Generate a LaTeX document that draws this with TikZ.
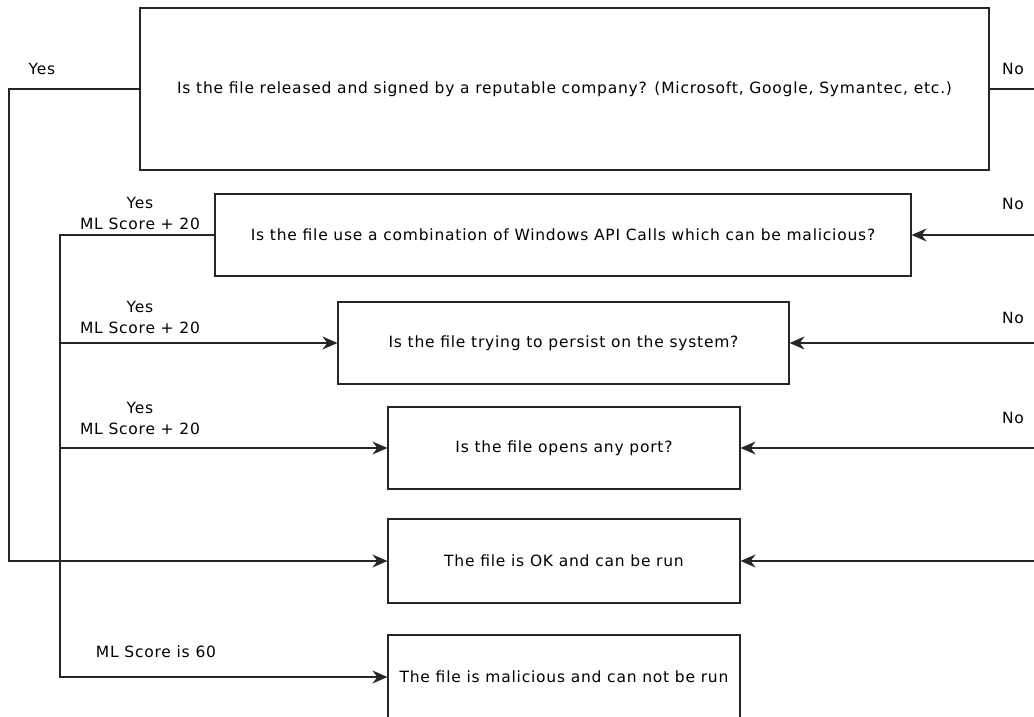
\documentclass[tikz,border=0pt]{standalone}
\usepackage{fontspec}
\setmainfont{DejaVu Sans}[LetterSpace=5]
\usetikzlibrary{arrows.meta}
\definecolor{flowline}{HTML}{262626}

\begin{document}
\begin{tikzpicture}[x=1pt,y=-1pt,
  qbox/.style={draw=flowline,line width=1.2pt,rectangle,inner sep=0pt,font=\fontsize{15.5}{18}\selectfont},
  flow/.style={draw=flowline,line width=1.2pt},
  flowarr/.style={flow,-{Stealth[length=15pt,width=13pt,inset=5pt]}},
  lbl/.style={font=\fontsize{15.5}{21}\selectfont,align=center,inner sep=0pt}]
  \useasboundingbox (0,0) rectangle (1034,717);
  \node[qbox,minimum width=849pt,minimum height=162pt] (signed) at (564.5,89) {Is the file released and signed by a reputable company? (Microsoft, Google, Symantec, etc.)};
  \node[qbox,minimum width=696pt,minimum height=82pt] (apicalls) at (563,235) {Is the file use a combination of Windows API Calls which can be malicious?};
  \node[qbox,minimum width=451pt,minimum height=82pt] (persist) at (563.5,343) {Is the file trying to persist on the system?};
  \node[qbox,minimum width=352pt,minimum height=82pt] (port) at (564,448) {Is the file opens any port?};
  \node[qbox,minimum width=352pt,minimum height=84pt] (okrun) at (564,561) {The file is OK and can be run};
  \node[qbox,minimum width=352pt,minimum height=84pt] (malicious) at (564,677) {The file is malicious and can not be run};
  \coordinate (yestop) at (9,89);
  \coordinate (scoretop) at (60,235);
  \coordinate (nosigned) at (1034,89);
  \coordinate (noapi) at (1034,235);
  \coordinate (nopersist) at (1034,343);
  \coordinate (noport) at (1034,448);
  \coordinate (nook) at (1034,561);
  \draw[flowarr] (signed.west) -- (yestop) |- (okrun.west);
  \draw[flow] (signed.east) -- (nosigned);
  \draw[flowarr] (apicalls.west) -- (scoretop) |- (malicious.west);
  \draw[flowarr] (scoretop |- persist.west) -- (persist.west);
  \draw[flowarr] (scoretop |- port.west) -- (port.west);
  \draw[flowarr] (noapi) -- (apicalls.east);
  \draw[flowarr] (nopersist) -- (persist.east);
  \draw[flowarr] (noport) -- (port.east);
  \draw[flowarr] (nook) -- (okrun.east);
  \node[lbl] (yes1) at (42,69) {Yes};
  \node[lbl] (no1) at (1013,69) {No};
  \node[lbl] (yes2) at (140,213) {Yes\\ML Score + 20};
  \node[lbl] (yes3) at (140,317) {Yes\\ML Score + 20};
  \node[lbl] (yes4) at (140,418) {Yes\\ML Score + 20};
  \node[lbl] (no2) at (1013,204) {No};
  \node[lbl] (no3) at (1013,318) {No};
  \node[lbl] (no4) at (1013,418) {No};
  \node[lbl] (score60) at (156,652) {ML Score is 60};
\end{tikzpicture}
\end{document}
